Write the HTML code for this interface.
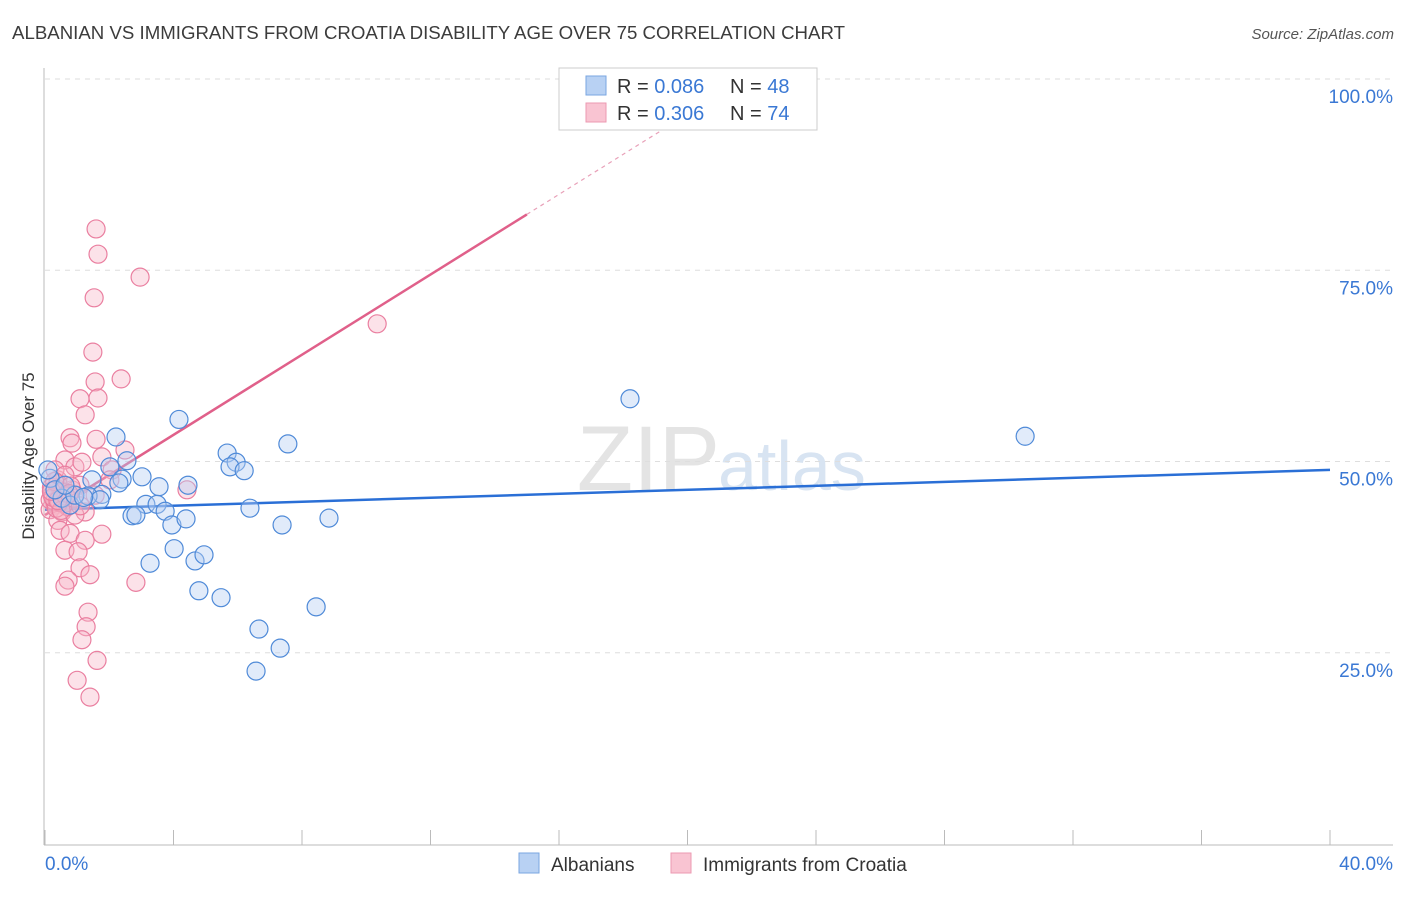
<!DOCTYPE html>
<html><head><meta charset="utf-8"><style>
body{margin:0;background:#fff;font-family:"Liberation Sans",sans-serif;}
svg text{font-family:"Liberation Sans",sans-serif;}
</style></head><body>
<svg id="chart" width="1406" height="892" xmlns="http://www.w3.org/2000/svg">
<text x="12" y="39" font-size="18" fill="#3c3c3c" textLength="833" lengthAdjust="spacingAndGlyphs">ALBANIAN VS IMMIGRANTS FROM CROATIA DISABILITY AGE OVER 75 CORRELATION CHART</text>
<text x="1394" y="39" font-size="15" fill="#555" text-anchor="end" font-style="italic">Source: ZipAtlas.com</text>
<text x="720" y="490" font-size="92" fill="#e4e4e4" text-anchor="end" font-family="Liberation Serif">ZIP</text>
<text x="718" y="490" font-size="70" fill="#d8e4f2">atlas</text>
<g id="grid"></g>
<g id="axes"></g>
<g id="lines"></g>
<g id="points"></g>
<text transform="translate(34,456) rotate(-90)" font-size="17" fill="#333" text-anchor="middle">Disability Age Over 75</text>
<text x="45" y="870" font-size="19" fill="#3a78d4">0.0%</text>
<text x="1393" y="870" font-size="19" fill="#3a78d4" text-anchor="end">40.0%</text>
<g>
<rect x="559" y="68" width="258" height="62" fill="#fff" stroke="#ccc"/>
<rect x="586" y="76" width="20" height="19" fill="#b8d1f3" stroke="#7aa6e0"/>
<rect x="586" y="103" width="20" height="19" fill="#f9c4d2" stroke="#ec9ab2"/>
<text x="617" y="93" font-size="20" fill="#333">R = <tspan fill="#3a78d4">0.086</tspan></text>
<text x="730" y="93" font-size="20" fill="#333">N = <tspan fill="#3a78d4">48</tspan></text>
<text x="617" y="120" font-size="20" fill="#333">R = <tspan fill="#3a78d4">0.306</tspan></text>
<text x="730" y="120" font-size="20" fill="#333">N = <tspan fill="#3a78d4">74</tspan></text>
</g>
<g>
<rect x="519" y="853" width="20" height="20" fill="#b8d1f3" stroke="#7aa6e0"/>
<text x="551" y="871" font-size="19" fill="#333">Albanians</text>
<rect x="671" y="853" width="20" height="20" fill="#f9c4d2" stroke="#ec9ab2"/>
<text x="703" y="871" font-size="19" fill="#333">Immigrants from Croatia</text>
</g>
</svg>
<script>
const yTicks=[25,50,75,100];
const yTickLabels=["25.0%","50.0%","75.0%","100.0%"];
const xTicks=[0,4,8,12,16,20,24,28,32,36,40];
const blueX=[4.17,2.21,2.55,2.02,3.02,2.40,1.46,3.55,4.45,1.77,1.34,0.53,3.14,3.49,3.74,2.71,2.83,3.95,4.39,4.02,3.27,4.67,4.95,4.79,5.48,5.67,5.95,5.76,6.20,6.38,7.56,7.38,8.44,8.84,6.66,7.32,6.57,18.21,30.51,0.16,0.31,0.78,0.93,1.71,0.62,0.09,1.2,2.3];
const blueY=[55.5,53.2,50.1,49.3,48.0,47.7,47.6,46.7,46.9,45.7,45.5,45.2,44.4,44.4,43.5,42.9,43.0,41.7,42.5,38.6,36.7,37.0,37.8,33.1,32.2,51.1,49.9,49.3,48.8,43.9,52.3,41.7,31.0,42.6,28.1,25.6,22.6,58.2,53.3,47.8,46.3,44.3,45.6,45.0,46.9,48.9,45.3,47.2];
const pinkX=[1.59,1.65,2.96,1.53,10.34,1.49,1.56,2.37,1.09,1.65,1.25,0.78,0.84,1.59,2.49,0.62,1.77,0.93,1.15,2.09,4.42,0.40,0.47,0.22,0.31,0.16,0.53,0.40,0.72,0.84,1.09,0.47,0.78,1.25,1.77,0.62,1.03,1.09,1.40,0.72,0.62,2.83,1.34,1.28,1.15,1.62,1.00,1.40,1.25,0.93,0.31,0.62,0.16,1.56,2.02,0.3,0.5,0.7,0.2,0.4,0.6,0.9,0.35,0.55,0.45,0.25,0.8,1.1,0.65,0.5,0.3,0.75,0.4,0.2];
const pinkY=[80.4,77.1,74.1,71.4,68.0,64.3,60.4,60.8,58.2,58.3,56.1,53.1,52.4,52.9,51.5,50.2,50.6,49.3,49.9,48.9,46.3,47.6,46.3,45.6,44.3,43.7,43.4,42.3,45.0,46.3,46.9,41.0,40.6,39.7,40.5,38.4,38.2,36.1,35.2,34.5,33.7,34.2,30.3,28.4,26.7,24.0,21.4,19.2,43.4,43.0,48.9,48.2,45.0,45.6,47.6,44.8,45.9,44.1,46.6,47.1,44.5,45.2,43.9,46.0,44.7,45.3,46.8,44.2,45.5,43.6,47.4,45.8,44.9,46.1];
const blueLine=[43.7,48.9];
const pinkLine=[43.0,2.62];
const X=v=>45+v/40*1285;
const Y=v=>844-v/100*765;
const NS="http://www.w3.org/2000/svg";
function mk(p,t,a){const e=document.createElementNS(NS,t);for(const k in a)e.setAttribute(k,a[k]);p.appendChild(e);return e;}
const grid=document.getElementById('grid'),axes=document.getElementById('axes'),lines=document.getElementById('lines'),pts=document.getElementById('points');
yTicks.forEach((t,i)=>{
const l=mk(grid,'line',{x1:45,x2:1393,y1:Y(t),y2:Y(t),stroke:'#dedede','stroke-dasharray':'5,5'});


const tx=mk(grid,'text',{x:1393,y:Y(t)+24,'font-size':19,fill:'#3a78d4','text-anchor':'end'});
tx.textContent=yTickLabels[i];


});
const ya=mk(axes,'line',{x1:44,x2:44,y1:68,y2:845,stroke:'#bbb'});


const xa=mk(axes,'line',{x1:44,x2:1393,y1:845,y2:845,stroke:'#bbb'});


xTicks.forEach(t=>{
const k=mk(axes,'line',{x1:X(t),x2:X(t),y1:830,y2:845,stroke:'#bbb'});


});
function dots(xs,ys,fill,stroke,name){xs.forEach((x,i)=>{
const c=mk(pts,'circle',{cx:X(x),cy:Y(ys[i]),r:9,fill:fill,'fill-opacity':0.4,stroke:stroke,'stroke-width':1.2});


});}
dots(pinkX,pinkY,'#f7b6c8','#ea7fa0','croatia-point');
dots(blueX,blueY,'#b3cef2','#4f8ad8','albanian-point');
const bl=mk(lines,'line',{x1:X(0),y1:Y(blueLine[0]),x2:X(40),y2:Y(blueLine[1]),stroke:'#2a6fd6','stroke-width':2.5});


const pe=15;
const pl=mk(lines,'line',{x1:X(0),y1:Y(pinkLine[0]),x2:X(pe),y2:Y(pinkLine[0]+pinkLine[1]*pe),stroke:'#e0608a','stroke-width':2.5});


const pe2=(100-pinkLine[0])/pinkLine[1];
const pd=mk(lines,'line',{x1:X(pe),y1:Y(pinkLine[0]+pinkLine[1]*pe),x2:X(pe2),y2:Y(100),stroke:'#e8a0b8','stroke-width':1.2,'stroke-dasharray':'4,4'});


</script>
</body></html>
